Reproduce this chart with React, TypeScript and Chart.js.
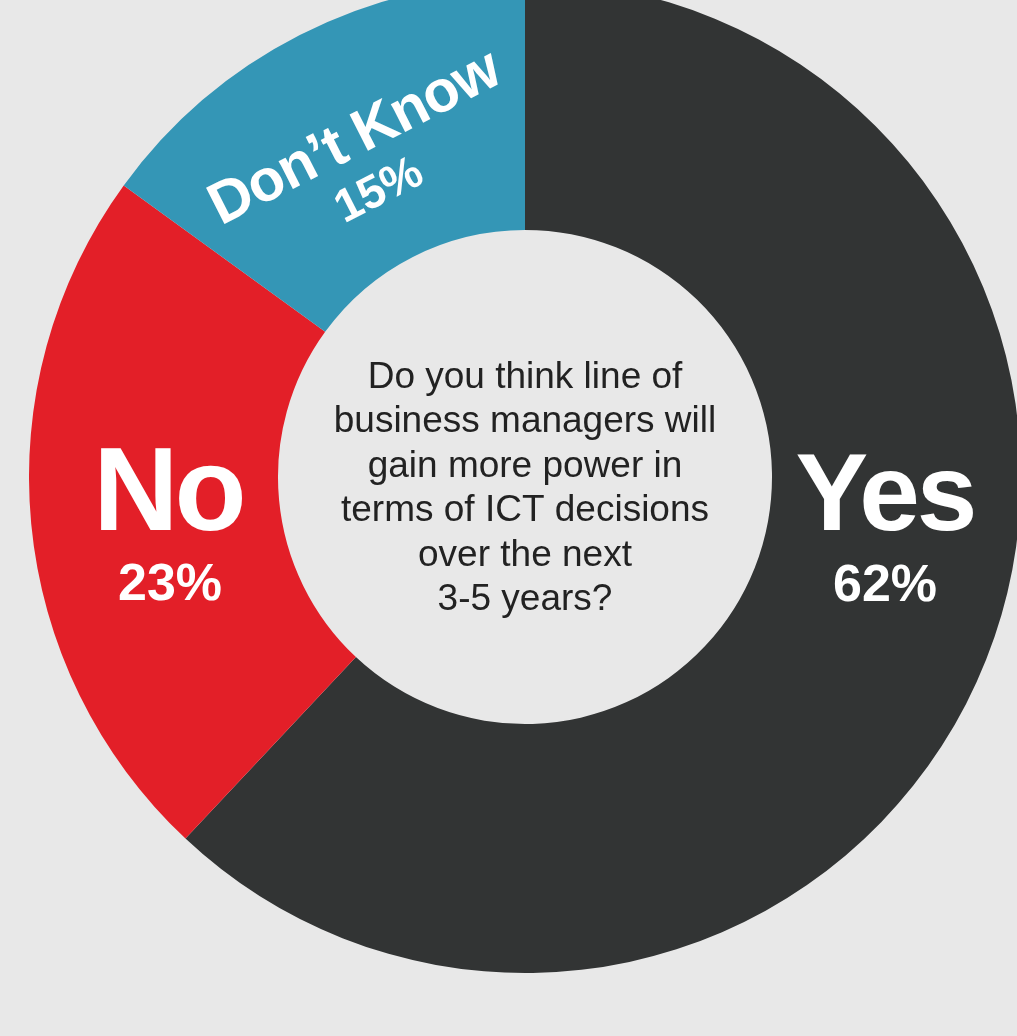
import React, { useEffect, useRef } from "react";
import { Chart, registerables } from "chart.js";

Chart.register(...registerables);

const categories = ["Yes", "No", "Don’t Know"];
const values = [62, 23, 15];
const percentLabels = ["62%", "23%", "15%"];
const sliceColors = ["#323434", "#e31f28", "#3496b6"];
const questionLines = [
  "Do you think line of",
  "business managers will",
  "gain more power in",
  "terms of ICT decisions",
  "over the next",
  "3-5 years?",
];

const FONT = "'Liberation Sans', Arial, Helvetica, sans-serif";

const labelPlugin = {
  id: "donutLabels",
  afterDatasetsDraw(chart: any) {
    const meta = chart.getDatasetMeta(0);
    const arcs = meta.data;
    if (!arcs.length) return;
    const cx = arcs[0].x;
    const cy = arcs[0].y;
    const ctx = chart.ctx as CanvasRenderingContext2D;
    ctx.save();
    ctx.fillStyle = "#ffffff";
    ctx.textAlign = "center";
    ctx.textBaseline = "alphabetic";

    // Yes (right side)
    (ctx as any).letterSpacing = "-3px";
    ctx.font = `bold 109px ${FONT}`;
    ctx.fillText(categories[0], cx + 360, cy + 53);
    (ctx as any).letterSpacing = "0px";
    ctx.font = `bold 52px ${FONT}`;
    ctx.fillText(percentLabels[0], cx + 360, cy + 124);

    // No (left side)
    (ctx as any).letterSpacing = "-4px";
    ctx.font = `bold 118px ${FONT}`;
    ctx.fillText(categories[1], cx - 357, cy + 53);
    (ctx as any).letterSpacing = "0px";
    ctx.font = `bold 52px ${FONT}`;
    ctx.fillText(percentLabels[1], cx - 355, cy + 123);

    // Don't Know (rotated along slice middle)
    const a = arcs[2];
    const mid = (a.startAngle + a.endAngle) / 2 + Math.PI / 2;
    ctx.save();
    ctx.translate(cx, cy);
    ctx.rotate(mid);
    (ctx as any).letterSpacing = "-1px";
    ctx.font = `bold 59px ${FONT}`;
    ctx.fillText(categories[2], 2, -362);
    (ctx as any).letterSpacing = "0px";
    ctx.font = `bold 46px ${FONT}`;
    ctx.fillText(percentLabels[2], 0, -308);
    ctx.restore();

    // Center question
    ctx.fillStyle = "#222222";
    ctx.font = `37px ${FONT}`;
    const lh = 44.4;
    questionLines.forEach((line, i) => {
      ctx.fillText(line, cx, cy - 89 + i * lh);
    });
    ctx.restore();
  },
};

export default function App() {
  const canvasRef = useRef<HTMLCanvasElement | null>(null);

  useEffect(() => {
    document.body.style.margin = "0";
    if (!canvasRef.current) return;
    const chart = new Chart(canvasRef.current, {
      type: "doughnut",
      data: {
        labels: categories,
        datasets: [
          {
            data: values,
            backgroundColor: sliceColors,
            borderWidth: 0,
          },
        ],
      },
      options: {
        animation: false,
        responsive: true,
        maintainAspectRatio: false,
        cutout: "49.8%",
        rotation: 0,
        layout: { padding: 0 },
        plugins: {
          legend: { display: false },
          tooltip: { enabled: false },
        },
        events: [],
      },
      plugins: [labelPlugin],
    });
    return () => chart.destroy();
  }, []);

  return (
    <div
      style={{
        position: "relative",
        width: 1017,
        height: 1036,
        overflow: "hidden",
        background: "#e8e8e8",
      }}
    >
      <div
        style={{
          position: "absolute",
          left: 29,
          top: -19,
          width: 992,
          height: 992,
        }}
      >
        <canvas ref={canvasRef} />
      </div>
    </div>
  );
}
